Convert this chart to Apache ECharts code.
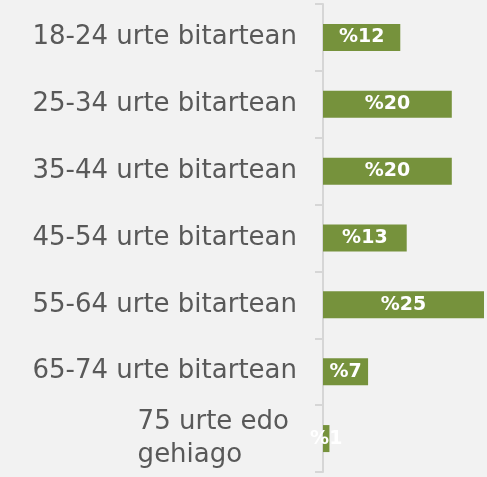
<!DOCTYPE html>
<html>
<head>
<meta charset="utf-8">
<script src="https://cdn.jsdelivr.net/npm/echarts@6/dist/echarts.min.js"></script>
<style>
  html, body { margin: 0; padding: 0; background: #f2f2f2; }
  #chart { width: 487px; height: 477px; }
</style>
</head>
<body>
<div id="chart"></div>
<script>
// adin taldeak
var categories = ['18-24 urte bitartean', '25-34 urte bitartean', '35-44 urte bitartean',
  '45-54 urte bitartean', '55-64 urte bitartean', '65-74 urte bitartean', '75 urte edo\ngehiago'];
var values = [12, 20, 20, 13, 25, 7, 1];

var chart = echarts.init(document.getElementById('chart'));
chart.setOption({
  backgroundColor: '#f2f2f2',
  animation: false,
  grid: { left: 323, right: 3, top: 4, bottom: 5 },
  xAxis: {
    type: 'value',
    min: 0,
    max: 25,
    show: false
  },
  yAxis: {
    type: 'category',
    inverse: true,
    data: categories,
    axisLine: { show: true, lineStyle: { color: '#d6d6d6', width: 2 } },
    axisTick: { show: true, length: 8, lineStyle: { color: '#d6d6d6', width: 2 } },
    axisLabel: {
      margin: 26,
      color: '#595959',
      fontFamily: 'DejaVu Sans',
      fontSize: 26,
      lineHeight: 33,
      formatter: function (v) {
        if (v.indexOf('\n') >= 0) {
          return v.split('\n').map(function (s) { return '{l|' + s + '}'; }).join('\n');
        }
        return v;
      },
      rich: {
        l: { align: 'left', color: '#595959', fontFamily: 'DejaVu Sans', fontSize: 26, lineHeight: 33, padding: [0, 8, 0, 0] }
      }
    }
  },
  series: [{
    type: 'bar',
    data: values,
    barWidth: 27,
    itemStyle: { color: '#76923c' },
    label: {
      show: true,
      position: 'inside',
      color: '#fff',
      fontFamily: 'DejaVu Sans',
      fontWeight: 'bold',
      fontSize: 19,
      formatter: function (p) { return '%' + p.value; }
    }
  }]
});
</script>
</body>
</html>
